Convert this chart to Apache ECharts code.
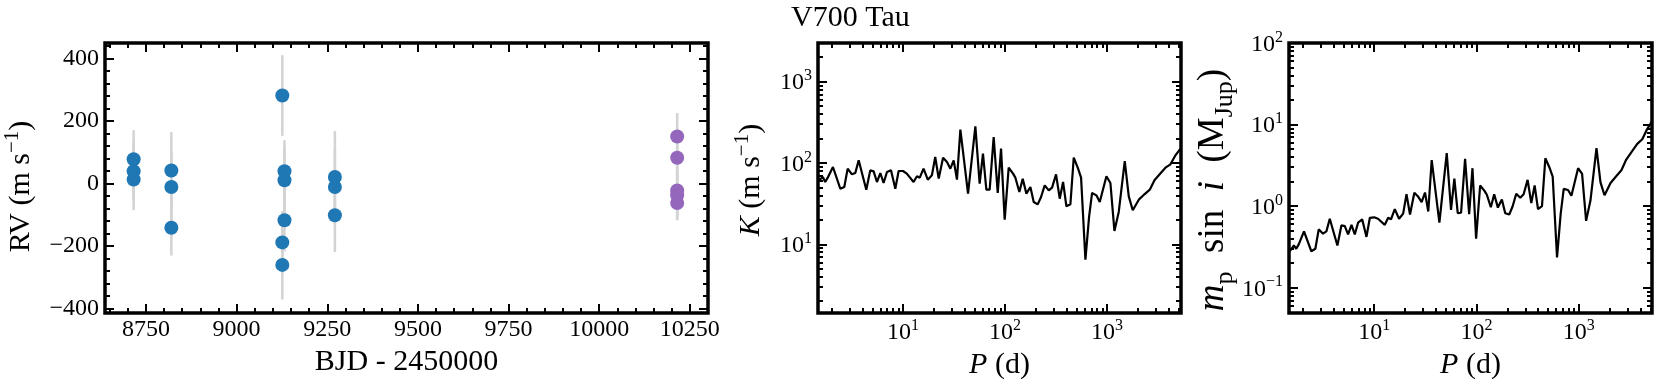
<!DOCTYPE html>
<html>
<head>
<meta charset="utf-8">
<script src="https://cdn.jsdelivr.net/npm/echarts@6/dist/echarts.min.js"></script>
<style>
html, body { margin: 0; padding: 0; background: #fff; }
#main { width: 1661px; height: 386px; }
</style>
</head>
<body>
<div id="main"></div>
<script>
// RV measurements, instrument 1 (blue) and instrument 2 (purple)
var rvTime1 = [8716, 8716, 8716, 8820, 8820, 8820, 9126, 9132, 9132, 9132, 9126, 9126, 9271, 9271, 9271];
var rvVal1 = [78, 40, 13, 42, -11, -141, 282, 40, 11, -117, -188, -260, 21, -11, -101];
var rvErr1 = [93, 95, 98, 123, 110, 89, 129, 99, 105, 100, 100, 111, 147, 120, 118];
var rvTime2 = [10215, 10215, 10215, 10215, 10215];
var rvVal2 = [151, 83, -22, -37, -62];
var rvErr2 = [75, 80, 85, 80, 55];

// detection limits vs period
var periods = [1.50, 1.64, 1.73, 1.83, 2.06, 2.43, 2.66, 2.87, 3.16, 3.41,
    3.68, 4.37, 4.78, 5.16, 5.56, 6.00, 6.46, 6.97, 7.63, 8.41,
    9.07, 10.0, 10.9, 12.7, 13.7, 14.6, 15.9, 17.5, 19.2, 20.7,
    22.4, 24.7, 27.0, 29.1, 31.4, 33.8, 36.5, 43.4, 51.2, 56.4,
    60.8, 65.6, 70.7, 77.4, 84.8, 91.4, 99.2, 108.6, 119.8, 126.3,
    138.2, 149.0, 161.9, 177.2, 191.0, 209.1, 225.4, 244.8, 268.0, 289.0,
    316.2, 343.6, 370.4, 399.5, 437.0, 471.3, 515.7, 556.1, 613.3, 666.0,
    712.8, 786.0, 847.6, 985.1, 1078, 1180, 1301, 1490, 1631, 1785,
    2045, 2323, 2620, 2912, 3210, 3731, 4179, 4677, 5236];
var kSemi = [61.2, 67.3, 58.4, 66.0, 89.3, 48.3, 50.7, 85.2, 72.6, 75.3,
    107.8, 47.0, 81.2, 79.0, 58.4, 75.3, 56.8, 77.5, 81.2, 48.3,
    79.7, 79.7, 73.9, 58.4, 68.6, 66.0, 85.2, 62.4, 70.5, 118.5,
    64.2, 116.3, 102.9, 85.2, 107.8, 62.4, 256.9, 42.0, 282.4, 55.7,
    130.2, 47.0, 47.0, 208.8, 42.8, 150.1, 20.1, 87.6, 73.9, 66.0,
    44.0, 64.2, 42.0, 50.7, 33.2, 31.0, 38.2, 53.1, 46.1, 49.8,
    72.6, 36.4, 58.4, 29.3, 31.0, 116.3, 87.6, 66.0, 6.48, 21.7,
    42.8, 40.0, 33.2, 68.6, 56.8, 14.6, 25.0, 105.8, 38.9, 26.2,
    35.4, 41.2, 47.0, 61.2, 70.5, 87.6, 96.3, 124.3, 150.1];
var mSini = [0.28, 0.33, 0.30, 0.34, 0.49, 0.28, 0.30, 0.52, 0.46, 0.49,
    0.70, 0.33, 0.58, 0.57, 0.45, 0.59, 0.45, 0.63, 0.69, 0.42,
    0.72, 0.73, 0.70, 0.59, 0.72, 0.69, 0.92, 0.70, 0.81, 1.40,
    0.79, 1.46, 1.30, 1.12, 1.47, 0.86, 3.67, 0.63, 4.47, 0.90,
    2.17, 0.82, 0.83, 3.80, 0.80, 2.92, 0.40, 1.79, 1.54, 1.38,
    0.97, 1.40, 0.96, 1.21, 0.82, 0.79, 0.99, 1.42, 1.27, 1.40,
    2.10, 1.09, 1.79, 0.92, 1.00, 3.86, 3.00, 2.30, 0.235, 0.81,
    1.63, 1.58, 1.34, 2.92, 2.49, 0.66, 1.17, 5.16, 1.96, 1.36,
    1.92, 2.33, 2.77, 3.73, 4.44, 5.80, 6.62, 8.87, 11.1];

// tick positions
var rvTimeTicks = [8750, 9000, 9250, 9500, 9750, 10000, 10250];
var rvTimeMinor = [8650, 8700, 8800, 8850, 8900, 8950, 9050, 9100, 9150, 9200, 9300, 9350, 9400, 9450,
    9550, 9600, 9650, 9700, 9800, 9850, 9900, 9950, 10050, 10100, 10150, 10200];
var rvTicks = [-400, -200, 0, 200, 400];
var rvMinor = [-360, -320, -280, -240, -160, -120, -80, -40, 40, 80, 120, 160, 240, 280, 320, 360, 440];
var periodTicks = [10, 100, 1000];
var kTicks = [10, 100, 1000];
var massTicks = [0.1, 1, 10, 100];

var FONT = 'Liberation Serif';
var gridPos = [
    {left: 105, top: 43, width: 603, height: 270},
    {left: 818, top: 43, width: 363, height: 270},
    {left: 1289, top: 43, width: 363, height: 270}
];

function supLabel(v) {
    var e = Math.round(Math.log10(v));
    return '{b|10}{s|' + (e < 0 ? '\u2212' + (-e) : e) + '}';
}
function linLabel(v) {
    return '{b|' + String(v).replace('-', '\u2212') + '}';
}
var labelRich = {
    b: {fontSize: 24, fontFamily: FONT, color: '#000', verticalAlign: 'bottom'},
    s: {fontSize: 16, fontFamily: FONT, color: '#000', verticalAlign: 'bottom', padding: [0, 0, 11, 0]}
};
function nameRich(size) {
    var sub = Math.round(size * 0.7);
    return {
        r: {fontSize: size, fontFamily: FONT, color: '#000', verticalAlign: 'bottom', padding: [0, 0, 6, 0]},
        i: {fontSize: size, fontFamily: FONT, fontStyle: 'italic', color: '#000', verticalAlign: 'bottom', padding: [0, 0, 6, 0]},
        p: {fontSize: sub, fontFamily: FONT, color: '#000', verticalAlign: 'bottom', padding: [0, 0, 19, 0]},
        d: {fontSize: sub, fontFamily: FONT, color: '#000', verticalAlign: 'bottom'}
    };
}
var tickStyle = {color: '#000', width: 2};

function labelled(ax, dim, vals, fmt, name, nameGap, nameSize, namePad) {
    ax.axisLabel = {
        show: true, customValues: vals, formatter: fmt,
        margin: dim === 'x' ? 5 : 6,
        fontFamily: FONT, fontSize: 24, color: '#000', rich: labelRich
    };
    ax.name = name;
    ax.nameLocation = 'middle';
    ax.nameGap = nameGap;
    ax.nameTextStyle = {fontFamily: FONT, fontSize: nameSize, color: '#000', padding: namePad, rich: nameRich(nameSize)};
    return ax;
}

// log axis on one side: ticks at each decade, minor ticks at 2..9
function logAxis(g, side, min, max) {
    return {
        type: 'log', gridIndex: g, position: side, min: min, max: max,
        axisLine: {show: false, onZero: false}, splitLine: {show: false},
        axisTick: {show: true, inside: true, length: 9, lineStyle: tickStyle},
        minorTick: {show: true, splitNumber: 9, length: 5, lineStyle: tickStyle},
        axisLabel: {show: false}
    };
}
// linear axis on one side with listed tick values
function listAxis(g, side, min, max, vals, len) {
    return {
        type: 'value', gridIndex: g, position: side, min: min, max: max,
        axisLine: {show: false, onZero: false}, splitLine: {show: false},
        axisTick: {show: true, inside: true, length: len, customValues: vals, lineStyle: tickStyle},
        axisLabel: {show: false}
    };
}

var xAxes = [
    labelled(listAxis(0, 'bottom', 8637, 10300, rvTimeTicks, 9), 'x', rvTimeTicks, linLabel, '{r|BJD - 2450000}', 28, 30, 0),
    listAxis(0, 'bottom', 8637, 10300, rvTimeMinor, 5),
    listAxis(0, 'top', 8637, 10300, rvTimeTicks, 9),
    listAxis(0, 'top', 8637, 10300, rvTimeMinor, 5),
    labelled(logAxis(1, 'bottom', 1.47, 5300), 'x', periodTicks, supLabel, '{i|P}{r| (d)}', 28, 30, 0),
    logAxis(1, 'top', 1.47, 5300),
    labelled(logAxis(2, 'bottom', 1.47, 5200), 'x', periodTicks, supLabel, '{i|P}{r| (d)}', 28, 30, 0),
    logAxis(2, 'top', 1.47, 5200)
];
var yAxes = [
    labelled(listAxis(0, 'left', -414, 450, rvTicks, 9), 'y', rvTicks, linLabel, '{r|RV (m s}{p|\u22121}{r|)}', 63, 30, [0, 17, 0, 0]),
    listAxis(0, 'left', -414, 450, rvMinor, 5),
    listAxis(0, 'right', -414, 450, rvTicks, 9),
    listAxis(0, 'right', -414, 450, rvMinor, 5),
    labelled(logAxis(1, 'left', 1.43, 2990), 'y', kTicks, supLabel, '{i|K}{r| (m s}{p|\u22121}{r|)}', 46, 30, [0, 4, 0, 0]),
    logAxis(1, 'right', 1.43, 2990),
    labelled(logAxis(2, 'left', 0.049, 100), 'y', massTicks, supLabel,
        '{i|m}{d|p}{r|  sin  }{i|i}{r|  (M}{d|Jup}{r|)}', 47, 37, [0, 24, 0, 0]),
    logAxis(2, 'right', 0.049, 100)
];

function zip(a, b, c) {
    return a.map(function (v, i) { return c ? [v, b[i], c[i]] : [v, b[i]]; });
}

function errorBars(data) {
    return {
        type: 'custom', xAxisIndex: 0, yAxisIndex: 0, z: 2, silent: true,
        data: data,
        renderItem: function (params, api) {
            var x = api.value(0), y = api.value(1), e = api.value(2);
            var p1 = api.coord([x, y - e]);
            var p2 = api.coord([x, y + e]);
            return {
                type: 'line',
                shape: {x1: p1[0], y1: p1[1], x2: p2[0], y2: p2[1]},
                style: {stroke: '#d3d3d3', lineWidth: 2.5}
            };
        }
    };
}

var myChart = echarts.init(document.getElementById('main'));
var option = {
    animation: false,
    backgroundColor: '#fff',
    title: {
        text: 'V700 Tau', left: 791, top: 3, padding: 0,
        textStyle: {fontFamily: FONT, fontSize: 30, fontWeight: 'normal', color: '#000'}
    },
    grid: gridPos.map(function (p) {
        return {left: p.left, top: p.top, width: p.width, height: p.height,
            show: true, borderColor: '#000', borderWidth: 3.5, backgroundColor: 'transparent'};
    }),
    xAxis: xAxes,
    yAxis: yAxes,
    series: [
        errorBars(zip(rvTime1, rvVal1, rvErr1)),
        errorBars(zip(rvTime2, rvVal2, rvErr2)),
        {
            type: 'scatter', xAxisIndex: 0, yAxisIndex: 0, z: 3,
            symbolSize: 14, itemStyle: {color: '#1f77b4', opacity: 1},
            data: zip(rvTime1, rvVal1)
        },
        {
            type: 'scatter', xAxisIndex: 0, yAxisIndex: 0, z: 3,
            symbolSize: 14, itemStyle: {color: '#9467bd', opacity: 1},
            data: zip(rvTime2, rvVal2)
        },
        {
            type: 'line', xAxisIndex: 4, yAxisIndex: 4, showSymbol: false,
            lineStyle: {color: '#000', width: 2.2},
            data: zip(periods, kSemi)
        },
        {
            type: 'line', xAxisIndex: 6, yAxisIndex: 6, showSymbol: false,
            lineStyle: {color: '#000', width: 2.2},
            data: zip(periods, mSini)
        }
    ]
};

myChart.clear();
myChart.setOption(option);
</script>
</body>
</html>
